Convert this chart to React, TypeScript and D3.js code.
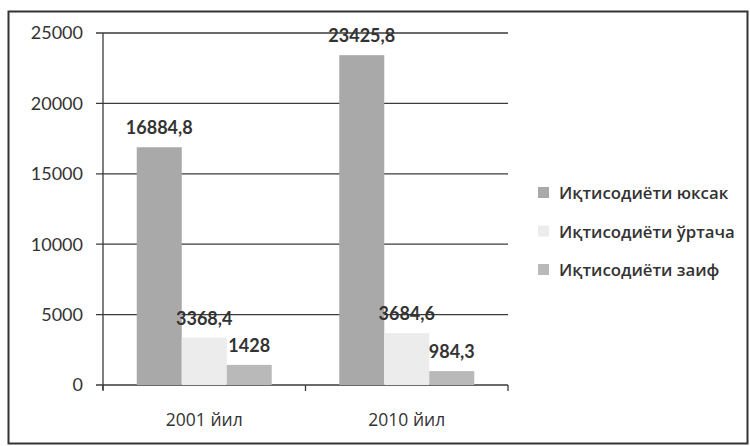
import React from "react";
import * as d3 from "d3";

const categories = ["2001 йил", "2010 йил"];
const seriesNames = ["Иқтисодиёти юксак", "Иқтисодиёти ўртача", "Иқтисодиёти заиф"];
const highValues = [16884.8, 23425.8];
const mediumValues = [3368.4, 3684.6];
const weakValues = [1428, 984.3];
const valueLabels = [["16884,8", "23425,8"], ["3368,4", "3684,6"], ["1428", "984,3"]];
const yTicks = [0, 5000, 10000, 15000, 20000, 25000];

const colors = ["#a9a9a9", "#ececec", "#b9b9b9"];

export default function App() {
  const W = 750, H = 446;
  const plotLeft = 103, plotRight = 508, plotTop = 33, plotBottom = 385;
  const series = [highValues, mediumValues, weakValues];

  const x0 = d3.scaleBand<string>().domain(categories).range([plotLeft, plotRight]).paddingInner(0).paddingOuter(0);
  const x1 = d3.scaleBand<number>().domain([0, 1, 2]).range([0, x0.bandwidth()]).paddingOuter(0.75).paddingInner(0);
  const y = d3.scaleLinear().domain([0, 25000]).range([plotBottom, plotTop]);

  const numFont = "Lato, 'Open Sans', sans-serif";
  const cyrFont = "'Open Sans', 'Noto Sans', sans-serif";
  const textColor = "#333";
  const lineColor = "#3a3a3a";

  return (
    <svg width={W} height={H} style={{ position: "absolute", left: 0, top: 0, background: "#fff" }}>
      <rect x={8.5} y={11.5} width={739} height={432} fill="#fff" stroke="#333" strokeWidth={2} />
      {yTicks.map((t) => (
        <g key={t}>
          <line x1={96} x2={plotRight} y1={y(t)} y2={y(t)} stroke={lineColor} strokeWidth={1.3} />
          <text x={83} y={y(t)} dy="0.36em" textAnchor="end" fontFamily={numFont} fontSize={18} fill={textColor}>
            {t}
          </text>
        </g>
      ))}
      <line x1={plotLeft} x2={plotLeft} y1={plotTop} y2={plotBottom + 5} stroke={lineColor} strokeWidth={1.3} />
      {[...categories.map((c) => x0(c)!), plotRight].map((xv, i) => (
        <line key={i} x1={xv} x2={xv} y1={plotBottom} y2={plotBottom + 6} stroke={lineColor} strokeWidth={1.3} />
      ))}
      {series.map((vals, si) =>
        categories.map((c, ci) => {
          const bx = x0(c)! + x1(si)!;
          const bw = x1.bandwidth();
          return (
            <g key={`${si}-${ci}`}>
              <rect x={bx} y={y(vals[ci])} width={bw} height={plotBottom - y(vals[ci])} fill={colors[si]} />
              <text x={bx + bw / 2} y={y(vals[ci]) - 13} textAnchor="middle" fontFamily={numFont} fontWeight="bold" fontSize={18} fill={textColor}>
                {valueLabels[si][ci]}
              </text>
            </g>
          );
        })
      )}
      {categories.map((c) => (
        <text key={c} x={x0(c)! + x0.bandwidth() / 2} y={426} textAnchor="middle" fontFamily={cyrFont} fontSize={17.5} fill={textColor}>
          {c}
        </text>
      ))}
      {seriesNames.map((n, i) => (
        <g key={n} transform={`translate(538, ${193 + i * 38.5})`}>
          <rect x={0} y={-6} width={11} height={11} fill={colors[i]} />
          <text x={21} y={0} dy="0.36em" fontFamily={cyrFont} fontWeight={600} fontSize={16.8} fill={textColor}>
            {n}
          </text>
        </g>
      ))}
    </svg>
  );
}
